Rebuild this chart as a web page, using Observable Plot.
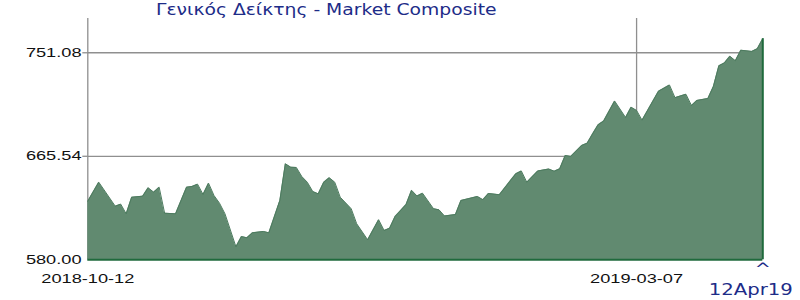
<!DOCTYPE html>
<html>
<head>
<meta charset="utf-8">
<script src="https://cdn.jsdelivr.net/npm/d3@7"></script>
<script src="https://cdn.jsdelivr.net/npm/@observablehq/plot@0.6"></script>
<style>
  body { margin: 0; background: #fff; }
  #wrap { position: relative; width: 800px; height: 300px; overflow: hidden; }
  #title { position: relative; height: 18px; }
  #title span {
    position: absolute; left: 156px; top: 0;
    font: 15px "DejaVu Sans", sans-serif; line-height: 20px;
    color: #1d2c88; white-space: nowrap;
    transform: scaleX(1.25); transform-origin: 0 0;
  }
</style>
</head>
<body>
<div id="wrap">
  <div id="title"><span>Γενικός Δείκτης - Market Composite</span></div>
  <div id="chart"></div>
</div>
<script>
// Trading sessions (0 = 2018-10-12, 123 = 2019-04-12) and closing levels
const session = [0, 2, 5, 6, 7, 8, 10, 11, 12, 13, 14, 16, 18, 19, 20, 21, 22, 23, 24, 25,
  27, 28, 29, 30, 32, 33, 35, 36, 37, 38, 39, 40, 41, 42, 43, 44, 45, 46, 48, 49,
  51, 53, 54, 55, 56, 58, 59, 60, 61, 63, 64, 65, 67, 68, 71, 72, 73, 75, 78, 79,
  80, 82, 84, 85, 86, 87, 88, 90, 91, 92, 93, 94, 96, 98, 99, 100, 101, 104, 106, 107,
  109, 110, 111, 113, 114, 115, 116, 117, 118, 119, 121, 122, 123];
const close = [628.4, 644.1, 624.3, 626.0, 618.0, 631.7, 632.6, 639.5, 635.9, 640.0, 618.5, 618.0, 640.0, 640.6, 642.5, 634.0, 643.3, 633.1, 626.8, 618.0,
  590.7, 599.2, 598.2, 602.3, 603.4, 602.3, 629.0, 659.3, 656.5, 656.3, 648.8, 644.1, 636.4, 634.5, 644.1, 647.8, 644.1, 631.7, 622.2, 609.8,
  596.5, 613.1, 604.2, 606.1, 615.8, 625.7, 637.4, 632.7, 635.0, 622.2, 621.3, 616.2, 617.4, 629.0, 632.3, 629.7, 634.8, 633.8, 651.1, 653.4,
  644.1, 653.4, 655.0, 653.2, 655.2, 666.2, 665.4, 674.5, 676.4, 684.1, 691.6, 694.6, 711.2, 697.6, 706.1, 703.4, 695.4, 719.3, 724.4, 714.0,
  716.8, 707.5, 711.7, 713.3, 723.2, 740.3, 742.7, 748.2, 744.5, 753.2, 752.2, 754.4, 762.7];

const sessionCount = 124;
const yTicks = [580.00, 665.54, 751.08];
const yTop = 779.4;
const xTickSessions = [0, 100];
const xTickLabels = ["2018-10-12", "2019-03-07"];
const endLabel = "12Apr19";
const endMarker = "^";

const data = session.map((s, i) => ({s, v: close[i]}));
const last = data[data.length - 1];
const xTicks = xTickSessions.map((s, i) => ({s, label: xTickLabels[i]}));
const fmt = d => d.toFixed(2);

const gridColor = "#8f8f8f";
const navy = "#1d2c88";
const fillGreen = "#618a70";
const darkGreen = "#1f6a3c";

const chart = Plot.plot({
  width: 800,
  height: 282,
  marginTop: 0,
  marginRight: 37.7,
  marginBottom: 40.7,
  marginLeft: 87.3,
  style: {fontFamily: '"Liberation Sans", Arial, sans-serif', fontSize: "13px", color: "#111", background: "#fff", overflow: "visible"},
  x: {domain: [0, sessionCount - 1], axis: null},
  y: {domain: [yTicks[0], yTop], axis: null},
  marks: [
    Plot.gridY(yTicks.slice(1), {stroke: gridColor, strokeOpacity: 1, strokeWidth: 1.3}),
    Plot.gridX(xTickSessions, {stroke: gridColor, strokeOpacity: 1, strokeWidth: 1.3}),
    Plot.axisY(yTicks.slice(1), {tickSize: 5, stroke: gridColor, strokeWidth: 1.3, fill: "none", label: null}),
    Plot.areaY(data, {x: "s", y1: yTicks[0], y2: "v", fill: fillGreen}),
    Plot.lineY(data, {x: "s", y: "v", stroke: "#4d7b5f", strokeWidth: 1}),
    Plot.ruleY([yTicks[0]], {stroke: darkGreen, strokeWidth: 2}),
    Plot.ruleX([last], {x: "s", y1: yTicks[0], y2: "v", stroke: darkGreen, strokeWidth: 2}),
    Plot.axisY(yTicks, {tickSize: 0, tickPadding: 6.3, tickFormat: fmt, fill: "#111", fontSize: 13, label: null}),
    Plot.text(xTicks, {x: "s", text: "label", frameAnchor: "bottom", dy: 19, lineAnchor: "middle", fill: "#111", fontSize: 13}),
    Plot.text([last], {x: "s", text: () => endMarker, frameAnchor: "bottom", dy: 3, lineAnchor: "top", fill: navy, fontFamily: '"DejaVu Sans", sans-serif', fontSize: 16}),
    Plot.text([last], {x: "s", text: () => endLabel, frameAnchor: "bottom", dx: -12, dy: 29.7, lineAnchor: "middle", fill: navy, fontFamily: '"DejaVu Sans", sans-serif', fontSize: 16})
  ]
});

document.getElementById("chart").appendChild(chart);

// Widen the label lettering horizontally around each label's anchor
const widths = new Map([
  ...yTicks.map(d => [fmt(d), 1.4]),
  ...xTickLabels.map(d => [d, 1.4]),
  [endLabel, 1.23],
  [endMarker, 1.2]
]);
chart.querySelectorAll("text").forEach(el => {
  const k = widths.get(el.textContent.trim());
  if (!k) return;
  const t = el.getAttribute("transform") || "";
  const x = parseFloat(el.getAttribute("x")) || 0;
  el.setAttribute("transform", `${t} translate(${x},0) scale(${k},1) translate(${-x},0)`);
});
</script>
</body>
</html>
